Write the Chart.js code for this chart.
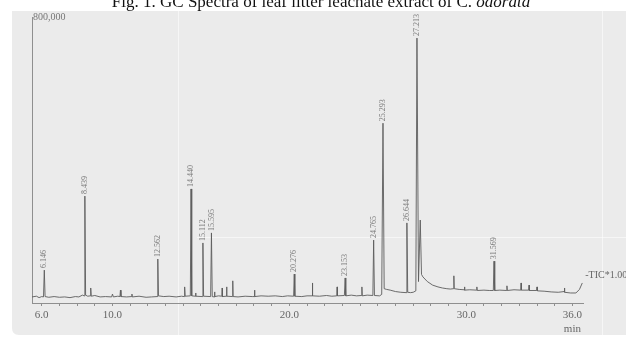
<!DOCTYPE html>
<html>
<head>
<meta charset="utf-8">
<script src="https://cdn.jsdelivr.net/npm/chart.js@4/dist/chart.umd.min.js"></script>
<style>
  html, body { margin: 0; padding: 0; background: #fff; }
  #wrap { width: 626px; height: 339px; }
</style>
</head>
<body>
<div id="wrap"><canvas id="GCCHART" width="626" height="339"></canvas></div>
<script>
// labelled peaks: retention time (min) and apex height (counts)
var peakTimes  = [6.146, 8.439, 12.562, 14.440, 15.112, 15.595, 20.276, 23.153, 24.765, 25.293, 26.644, 27.213, 31.569];
var peakCounts = [92000, 299000, 123000, 319000, 168000, 196000, 81000, 70000, 176000, 503000, 224000, 741000, 117000];

// rest of the TIC trace (baseline, small unlabelled peaks)
var baseTimes = [
  5.45, 5.7, 5.85, 6.0, 6.1, 6.19, 6.4, 6.7, 7.0, 7.3, 7.6, 7.9, 8.1, 8.3, 8.40,
  8.48, 8.6, 8.74, 8.77, 8.80, 9.0, 9.3, 9.6, 9.95, 10.0, 10.05, 10.3, 10.42, 10.45, 10.48,
  10.8, 11.08, 11.1, 11.12, 11.5, 11.9, 12.2, 12.52, 12.60, 12.9, 13.2, 13.6, 13.9, 14.05, 14.08,
  14.11, 14.40, 14.48, 14.68, 14.7, 14.72, 15.07, 15.15, 15.55, 15.64, 15.75, 15.77, 15.79, 16.0, 16.18,
  16.2, 16.22, 16.43, 16.45, 16.47, 16.78, 16.8, 16.82, 17.1, 17.5, 17.9, 18.01, 18.03, 18.05, 18.4,
  18.8, 19.2, 19.6, 19.9, 20.24, 20.31, 20.7, 21.0, 21.28, 21.3, 21.32, 21.7, 22.1, 22.4, 22.68,
  22.7, 22.72, 23.11, 23.19, 23.5, 23.8, 24.08, 24.1, 24.12, 24.4, 24.72, 24.81, 25.1, 25.22, 25.36,
  25.5, 25.7, 26.0, 26.3, 26.6, 26.69, 26.85, 27.0, 27.15, 27.30, 27.40, 27.47, 27.55, 27.8, 28.1,
  28.4, 28.65, 28.9, 29.1, 29.28, 29.3, 29.32, 29.6, 29.88, 29.9, 29.92, 30.2, 30.58, 30.6, 30.62,
  31.0, 31.3, 31.53, 31.61, 31.9, 32.28, 32.3, 32.32, 32.7, 33.08, 33.1, 33.12, 33.53, 33.55, 33.57,
  33.98, 34.0, 34.02, 34.4, 34.8, 35.2, 35.53, 35.55, 35.57, 35.9, 36.2, 36.4, 36.56
];
var baseCounts = [
  17000, 19000, 15000, 18000, 17000, 18000, 16000, 18000, 16000, 17000, 15000, 18000, 17000, 22000, 20000,
  22000, 19000, 20000, 42000, 19000, 21000, 17000, 18000, 17000, 25000, 17000, 19000, 18000, 36000, 18000,
  17000, 18000, 25000, 17000, 19000, 16000, 17000, 18000, 20000, 18000, 19000, 17000, 19000, 18000, 45000,
  19000, 20000, 20000, 19000, 28000, 19000, 18000, 19000, 18000, 18000, 17000, 31000, 18000, 20000, 19000,
  42000, 18000, 19000, 45000, 19000, 18000, 62000, 18000, 17000, 19000, 18000, 18000, 36000, 18000, 20000,
  19000, 20000, 18000, 20000, 19000, 19000, 18000, 20000, 20000, 56000, 20000, 19000, 21000, 19000, 20000,
  45000, 20000, 21000, 20000, 22000, 20000, 21000, 45000, 20000, 22000, 21000, 21000, 20000, 24000, 40000,
  38000, 36000, 32000, 30000, 29000, 30000, 29000, 30000, 34000, 60000, 232000, 80000, 73000, 60000, 50000,
  45000, 42000, 40000, 39000, 40000, 76000, 40000, 38000, 37000, 45000, 36000, 37000, 36000, 45000, 35000,
  36000, 35000, 35000, 35000, 36000, 35000, 48000, 35000, 37000, 36000, 56000, 36000, 36000, 50000, 35000,
  35000, 45000, 34000, 33000, 31000, 30000, 32000, 42000, 30000, 28000, 28000, 38000, 56000
];

var xTickLabels = [6, 10, 20, 30, 36];
var yTopLabel = 800000;

// merge peaks into the trace, in time order
var trace = baseTimes.map((t, i) => ({ x: t, y: baseCounts[i] }))
  .concat(peakTimes.map((t, i) => ({ x: t, y: peakCounts[i] })))
  .sort((a, b) => a.x - b.x);

// grey scanned panel + title
var panelPlugin = {
  id: 'panel',
  beforeDraw(chart) {
    var ctx = chart.ctx;
    ctx.save();
    ctx.fillStyle = '#ffffff';
    ctx.fillRect(0, 0, chart.width, chart.height);
    ctx.fillStyle = '#ebebeb';
    ctx.beginPath();
    ctx.moveTo(12, 11);
    ctx.lineTo(630, 11);
    ctx.lineTo(630, 335);
    ctx.lineTo(19, 335);
    ctx.quadraticCurveTo(12, 335, 12, 328);
    ctx.closePath();
    ctx.fill();
    // faint streaks in the panel
    ctx.strokeStyle = 'rgba(255,255,255,0.55)';
    ctx.lineWidth = 1;
    ctx.beginPath();
    ctx.moveTo(178.5, 11); ctx.lineTo(178.5, 335);
    ctx.moveTo(602.5, 11); ctx.lineTo(602.5, 335);
    ctx.moveTo(197, 237.5); ctx.lineTo(626, 237.5);
    ctx.stroke();

    // title, cut at the top edge
    var part1 = 'Fig. 1. GC Spectra of leaf litter leachate extract of C. ';
    var part2 = 'odorata';
    ctx.fillStyle = '#111';
    ctx.textBaseline = 'alphabetic';
    ctx.font = '17px "Liberation Serif", serif';
    var w1 = ctx.measureText(part1).width;
    ctx.font = 'italic 17px "Liberation Serif", serif';
    var w2 = ctx.measureText(part2).width;
    var x0 = 321 - (w1 + w2) / 2;
    ctx.font = '17px "Liberation Serif", serif';
    ctx.fillText(part1, x0, 7);
    ctx.font = 'italic 17px "Liberation Serif", serif';
    ctx.fillText(part2, x0 + w1, 7);
    ctx.restore();
  }
};

// retention-time labels above each peak, y max label, TIC tag
var peakLabelPlugin = {
  id: 'peakLabels',
  afterDatasetsDraw(chart) {
    var ctx = chart.ctx;
    var xs = chart.scales.x, ys = chart.scales.y;
    ctx.save();
    ctx.fillStyle = '#7a7a7a';
    ctx.font = '8px "Liberation Serif", serif';
    ctx.textAlign = 'left';
    ctx.textBaseline = 'middle';
    peakTimes.forEach((t, i) => {
      var px = xs.getPixelForValue(t);
      var py = ys.getPixelForValue(peakCounts[i]);
      ctx.save();
      ctx.translate(px, py - 2);
      ctx.rotate(-Math.PI / 2);
      ctx.fillText(t.toFixed(3), 0, 0);
      ctx.restore();
    });

    ctx.fillStyle = '#777';
    ctx.font = '10px "Liberation Serif", serif';
    ctx.fillText(yTopLabel.toLocaleString('en-US'), chart.chartArea.left + 1, ys.getPixelForValue(yTopLabel));

    var last = trace[trace.length - 1];
    ctx.font = '10px "Liberation Serif", serif';
    ctx.fillStyle = '#666';
    ctx.fillText('-TIC*1.00', xs.getPixelForValue(last.x) + 3, ys.getPixelForValue(last.y) - 8);
    ctx.restore();
  }
};

var ctx = document.getElementById('GCCHART').getContext('2d');
var myChart = new Chart(ctx, {
  type: 'line',
  data: {
    datasets: [{
      label: 'TIC',
      data: trace,
      borderColor: '#5c5c5c',
      borderWidth: 0.9,
      pointRadius: 0,
      tension: 0,
      fill: false
    }]
  },
  options: {
    responsive: false,
    animation: false,
    parsing: false,
    layout: { padding: { left: 32, top: 17, right: 43, bottom: 0 } },
    plugins: {
      legend: { display: false },
      tooltip: { enabled: false }
    },
    scales: {
      x: {
        type: 'linear',
        min: 5.45,
        max: 36.6,
        afterFit: (scale) => { scale.height = 36; },
        afterBuildTicks: (scale) => {
          var ticks = [];
          for (var v = 6; v <= 36; v++) ticks.push({ value: v });
          scale.ticks = ticks;
        },
        border: { display: true, color: '#8f8f8f', width: 1 },
        grid: { display: true, drawOnChartArea: false, drawTicks: true, tickLength: 3, color: '#8f8f8f' },
        ticks: {
          autoSkip: false,
          maxRotation: 0,
          padding: 3,
          color: '#666',
          font: { family: '"Liberation Serif", serif', size: 11 },
          callback: (value) => {
            if (!xTickLabels.includes(value)) return '';
            if (value === 36) return ['36.0', 'min'];
            return value.toFixed(1);
          }
        }
      },
      y: {
        type: 'linear',
        min: 0,
        max: yTopLabel,
        afterFit: (scale) => { scale.width = 0; },
        border: { display: true, color: '#8f8f8f', width: 1 },
        grid: { display: false },
        ticks: { display: false }
      }
    }
  },
  plugins: [panelPlugin, peakLabelPlugin]
});
</script>
</body>
</html>
